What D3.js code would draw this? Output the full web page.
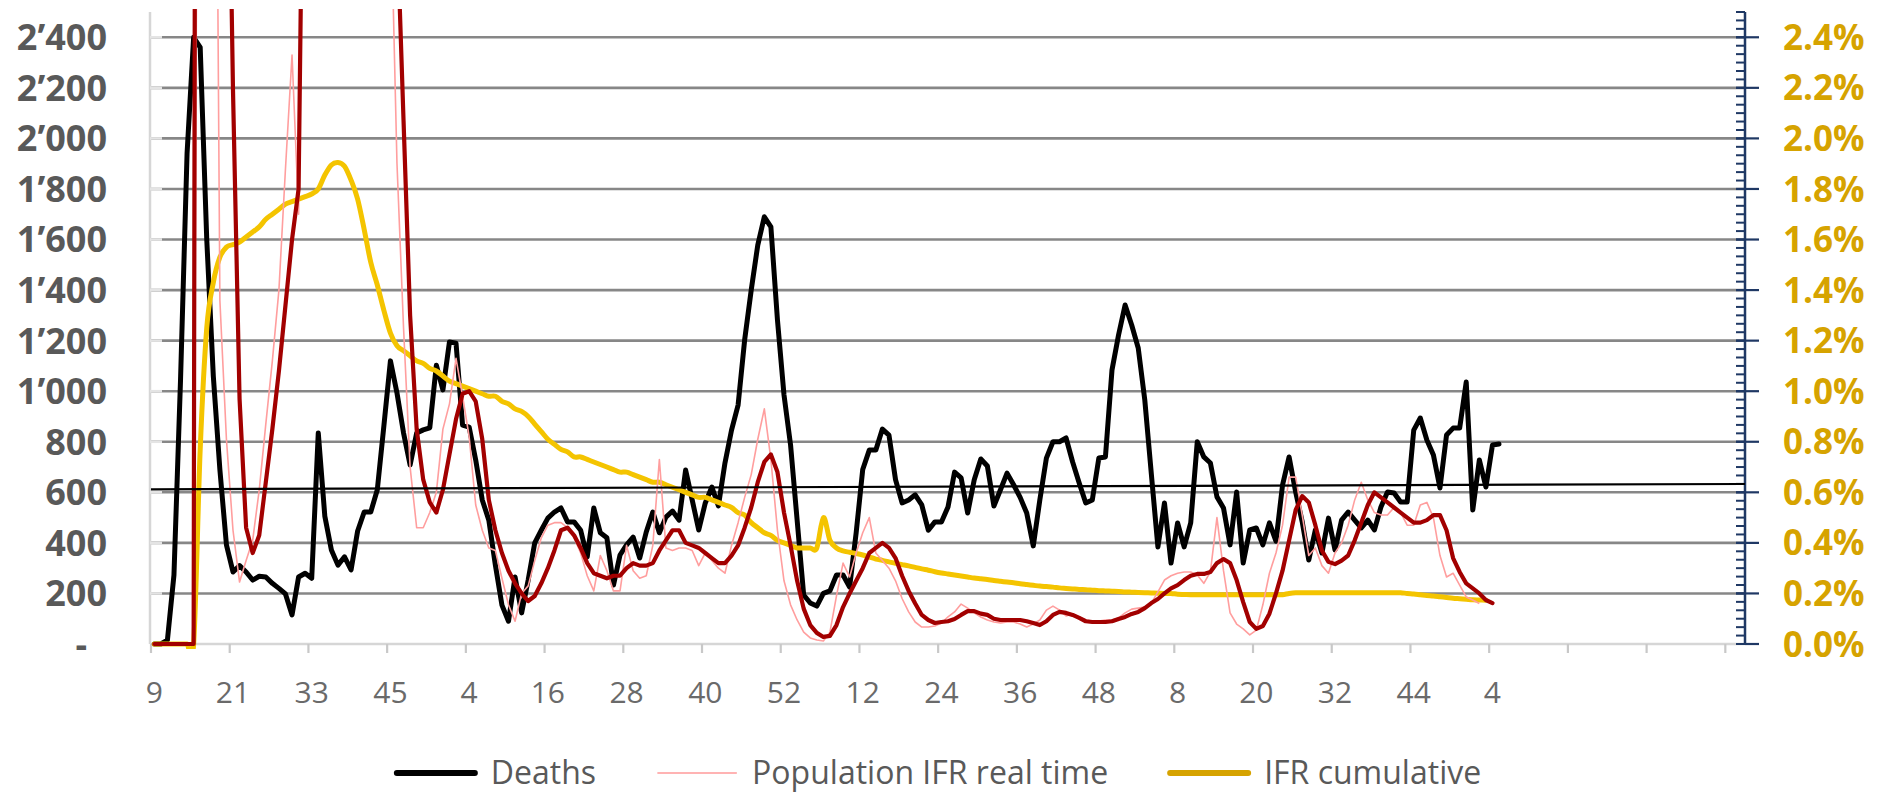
<!DOCTYPE html>
<html><head><meta charset="utf-8">
<script src="https://cdn.jsdelivr.net/npm/d3@7"></script>
<style>body{margin:0;background:#fff}svg{display:block}</style>
</head><body><svg id="c" width="1890" height="792"></svg>
<script>
// ---------- DATA ----------
const weekLabels = ["9","21","33","45","4","16","28","40","52","12","24","36","48","8","20","32","44","4"];
const categoryCount = 243;
const leftTicks = [0,200,400,600,800,1000,1200,1400,1600,1800,2000,2200,2400];
const rightTicks = [0,0.2,0.4,0.6,0.8,1.0,1.2,1.4,1.6,1.8,2.0,2.2,2.4];

const deaths = [0,0,15,273,1044,1942,2400,2360,1600,1060,690,392,285,310,285,253,268,265,240,220,
198,115,265,280,260,835,505,372,312,345,293,447,522,522,610,862,1120,993,835,708,
835,847,855,1103,1005,1195,1190,866,858,728,570,490,312,154,90,265,123,253,400,450,
498,522,538,483,483,450,344,538,440,420,233,352,392,423,340,443,522,440,502,526,
490,688,570,451,558,621,546,716,846,945,1203,1400,1578,1690,1650,1282,985,787,490,194,
162,150,200,210,273,273,225,440,690,767,767,850,826,650,558,570,590,550,450,483,
483,542,680,657,518,650,732,704,546,610,676,630,580,518,388,570,735,800,800,815,
720,637,558,570,736,740,1084,1222,1341,1262,1171,965,672,384,558,320,479,384,479,800,
740,716,582,538,392,601,320,451,459,392,479,407,629,740,601,483,332,451,360,498,
372,490,522,490,459,490,451,542,601,597,562,562,846,894,807,748,617,827,854,854,
1036,530,728,621,787,791];

const ifrRealTime = [0,0,0,0,0,0,0,6,8,5.2,1.36,0.81,0.45,0.245,0.33,0.41,0.61,0.87,1.12,1.40,
1.88,2.33,1.70,4,6,8,7,6,7,8,6,5,6,5,4.5,4,3.0,1.9,1.25,0.7,
0.46,0.46,0.52,0.6,0.85,0.95,1.13,0.98,0.82,0.55,0.45,0.38,0.37,0.26,0.155,0.09,0.2,0.23,0.33,0.42,
0.47,0.48,0.48,0.46,0.42,0.36,0.27,0.21,0.35,0.29,0.21,0.21,0.39,0.29,0.26,0.27,0.39,0.73,0.38,0.37,
0.38,0.38,0.37,0.31,0.36,0.33,0.30,0.28,0.39,0.48,0.58,0.67,0.81,0.93,0.73,0.45,0.25,0.155,0.095,0.047,
0.024,0.016,0.012,0.047,0.19,0.32,0.265,0.36,0.44,0.50,0.36,0.33,0.30,0.25,0.18,0.127,0.087,0.067,0.067,0.071,
0.083,0.107,0.127,0.158,0.142,0.123,0.107,0.095,0.087,0.083,0.087,0.087,0.079,0.067,0.079,0.095,0.134,0.15,0.134,0.111,
0.119,0.107,0.095,0.091,0.091,0.095,0.095,0.103,0.123,0.138,0.142,0.146,0.162,0.206,0.253,0.27,0.28,0.285,0.285,0.273,
0.24,0.285,0.50,0.29,0.123,0.079,0.06,0.036,0.055,0.155,0.28,0.36,0.47,0.66,0.66,0.51,0.35,0.38,0.31,0.28,
0.36,0.40,0.47,0.57,0.64,0.57,0.52,0.51,0.51,0.54,0.52,0.47,0.47,0.55,0.56,0.50,0.35,0.265,0.28,0.233,
0.186,0.174,0.16];

const ifrSmoothed = [0,0,0,0,0,0,0,15,20,18,12,3.8,2.19,0.97,0.46,0.36,0.43,0.64,0.85,1.08,
1.34,1.6,1.8,4,7,9,10,10,9,9,8,7,6,5,4.5,4,3.4,2.85,2.07,1.30,
0.85,0.65,0.56,0.52,0.61,0.75,0.89,0.99,1.0,0.96,0.81,0.57,0.45,0.36,0.29,0.24,0.20,0.17,0.19,0.24,
0.30,0.37,0.45,0.46,0.43,0.38,0.32,0.28,0.27,0.26,0.27,0.27,0.30,0.32,0.31,0.31,0.32,0.37,0.41,0.45,
0.45,0.40,0.39,0.38,0.36,0.34,0.32,0.32,0.35,0.39,0.46,0.54,0.64,0.72,0.75,0.68,0.52,0.39,0.25,0.14,
0.075,0.044,0.028,0.032,0.075,0.146,0.20,0.25,0.30,0.36,0.38,0.40,0.38,0.34,0.27,0.21,0.16,0.115,0.095,0.083,
0.087,0.09,0.099,0.115,0.13,0.13,0.12,0.115,0.10,0.095,0.095,0.095,0.095,0.09,0.083,0.075,0.09,0.115,0.127,0.123,
0.115,0.103,0.09,0.087,0.087,0.087,0.09,0.099,0.107,0.119,0.127,0.142,0.162,0.178,0.20,0.22,0.233,0.253,0.27,0.277,
0.277,0.285,0.32,0.336,0.32,0.253,0.166,0.087,0.06,0.071,0.12,0.20,0.29,0.41,0.53,0.585,0.56,0.47,0.37,0.325,
0.316,0.33,0.35,0.41,0.48,0.55,0.60,0.58,0.56,0.54,0.52,0.50,0.48,0.48,0.49,0.51,0.51,0.45,0.34,0.285,
0.24,0.22,0.20,0.174,0.162];

const ifrCumulative = [0,0,0,0,0,0,0,0.77,1.25,1.43,1.53,1.57,1.58,1.59,1.61,1.63,1.65,1.68,1.70,1.72,
1.74,1.75,1.76,1.77,1.78,1.80,1.855,1.895,1.905,1.89,1.835,1.76,1.64,1.51,1.42,1.32,1.23,1.18,1.16,1.14,
1.12,1.11,1.09,1.08,1.06,1.04,1.03,1.02,1.01,1.00,0.99,0.98,0.98,0.96,0.95,0.93,0.92,0.90,0.87,0.84,
0.81,0.79,0.77,0.76,0.74,0.74,0.73,0.72,0.71,0.70,0.69,0.68,0.68,0.67,0.66,0.65,0.64,0.64,0.63,0.62,
0.61,0.60,0.59,0.58,0.58,0.57,0.56,0.55,0.54,0.52,0.51,0.48,0.46,0.44,0.43,0.41,0.40,0.39,0.38,0.38,
0.38,0.38,0.50,0.41,0.38,0.368,0.363,0.358,0.352,0.344,0.336,0.331,0.325,0.319,0.314,0.309,0.303,0.297,0.292,0.286,
0.281,0.277,0.273,0.269,0.265,0.261,0.258,0.255,0.251,0.248,0.245,0.242,0.238,0.235,0.232,0.229,0.227,0.225,0.222,0.220,
0.218,0.216,0.215,0.213,0.211,0.210,0.209,0.208,0.206,0.205,0.204,0.203,0.202,0.201,0.200,0.200,0.197,0.196,0.195,0.195,
0.195,0.195,0.195,0.195,0.195,0.195,0.195,0.195,0.195,0.195,0.195,0.195,0.195,0.200,0.203,0.203,0.203,0.203,0.203,0.203,
0.203,0.203,0.203,0.203,0.203,0.203,0.203,0.203,0.203,0.203,0.203,0.200,0.198,0.195,0.192,0.190,0.187,0.184,0.181,0.179,
0.177,0.175,0.174,0.173];

const trendLine = [612, 633];

const legendItems = ["Deaths","Population IFR real time","IFR cumulative"];

// ---------- CHART ----------
const svg = d3.select('#c');
const font = "'Open Sans','Noto Sans',sans-serif";
const xB = d3.scaleLinear().domain([0, categoryCount]).range([151, 1745]);
const xC = i => xB(i + 0.5);
const yL = d3.scaleLinear().domain([0, 2500]).range([644, 12]);
const yR = d3.scaleLinear().domain([0, 2.5]).range([644, 12]);

const COL = {black:"#000000", pink:"#FF9E9E", red:"#A20000", yellow:"#F4C400", gold:"#D6A300", grid:"#878787", axis:"#D6D6D6", navy:"#1F3864", label:"#595959", xlabel:"#6a6a6a"};

// gridlines
svg.append('g').selectAll('line').data(leftTicks.filter(d => d > 0)).join('line')
  .attr('x1', xB(0)).attr('x2', xB(categoryCount))
  .attr('y1', d => yL(d)).attr('y2', d => yL(d))
  .attr('stroke', COL.grid).attr('stroke-width', 2.6);

// left axis
const gL = svg.append('g');
gL.append('line').attr('x1', 150).attr('x2', 150).attr('y1', yL(2500)).attr('y2', yL(0))
  .attr('stroke', COL.axis).attr('stroke-width', 2.5);
gL.selectAll('line.t').data(leftTicks.filter(d => d > 0)).join('line').attr('class', 't')
  .attr('x1', 150).attr('x2', 162).attr('y1', d => yL(d)).attr('y2', d => yL(d))
  .attr('stroke', '#E4E4E4').attr('stroke-width', 2.6);
const fmtL = d => d === 0 ? "-" : d3.format(",")(d).replace(/,/g, "\u2019");
gL.selectAll('text').data(leftTicks).join('text')
  .attr('x', d => d === 0 ? 87 : 107).attr('y', d => yL(d)).attr('dy', '0.36em')
  .attr('text-anchor', 'end').attr('font-family', font).attr('font-weight', 700)
  .attr('font-size', 36).attr('fill', COL.label).text(fmtL);

// x axis
const gX = svg.append('g');
gX.append('line').attr('x1', 150).attr('x2', xB(categoryCount)).attr('y1', 644).attr('y2', 644)
  .attr('stroke', COL.axis).attr('stroke-width', 2.5);
const tickIdx = d3.range(0, categoryCount, 12);
gX.selectAll('line.t').data(tickIdx).join('line').attr('class', 't')
  .attr('x1', d => xB(d)).attr('x2', d => xB(d)).attr('y1', 644).attr('y2', 653)
  .attr('stroke', '#C8C8C8').attr('stroke-width', 2.2);
gX.selectAll('text').data(weekLabels).join('text')
  .attr('x', (d, i) => xC(i * 12)).attr('y', 703).attr('text-anchor', 'middle')
  .attr('font-family', font).attr('font-size', 30).attr('fill', COL.xlabel).text(d => d);

// right axis
const gR = svg.append('g');
const minorVals = d3.range(0, 76).map(k => k / 30);
gR.selectAll('line.m').data(minorVals).join('line').attr('class', 'm')
  .attr('x1', 1736).attr('x2', 1745).attr('y1', d => yR(d)).attr('y2', d => yR(d))
  .attr('stroke', COL.navy).attr('stroke-width', 2);
gR.selectAll('line.M').data(rightTicks).join('line').attr('class', 'M')
  .attr('x1', d => d === 0 ? 1745 : 1736).attr('x2', 1759).attr('y1', d => yR(d)).attr('y2', d => yR(d))
  .attr('stroke', COL.navy).attr('stroke-width', 2.2);
gR.append('line').attr('x1', 1745).attr('x2', 1745).attr('y1', yR(2.5)).attr('y2', yR(0) + 1)
  .attr('stroke', COL.navy).attr('stroke-width', 2.5);
gR.selectAll('text').data(rightTicks).join('text')
  .attr('x', 1783).attr('y', d => yR(d)).attr('dy', '0.36em')
  .attr('font-family', font).attr('font-weight', 700).attr('font-size', 35)
  .attr('fill', COL.gold).text(d => d.toFixed(1) + "%");

// clip
svg.append('clipPath').attr('id', 'clip').append('rect')
  .attr('x', 148).attr('y', 9).attr('width', 1600).attr('height', 640);
const plot = svg.append('g').attr('clip-path', 'url(#clip)');

const lineL = d3.line().x((d, i) => xC(i)).y(d => yL(d));
const lineR = d3.line().x((d, i) => xC(i)).y(d => yR(d));
const lineRs = d3.line().x((d, i) => xC(i)).y(d => yR(d)).curve(d3.curveCardinal.tension(0));

plot.append('path').datum(deaths).attr('d', lineL).attr('fill', 'none')
  .attr('stroke', COL.black).attr('stroke-width', 5).attr('stroke-linejoin', 'round').attr('stroke-linecap', 'round');
plot.append('path').datum(ifrCumulative).attr('d', lineRs).attr('fill', 'none')
  .attr('stroke', COL.yellow).attr('stroke-width', 5).attr('stroke-linejoin', 'round').attr('stroke-linecap', 'round');
plot.append('path').datum(ifrRealTime).attr('d', lineR).attr('fill', 'none')
  .attr('stroke', COL.pink).attr('stroke-width', 1.6).attr('stroke-linejoin', 'round');
plot.append('path').datum(ifrSmoothed).attr('d', lineR).attr('fill', 'none')
  .attr('stroke', COL.red).attr('stroke-width', 4.2).attr('stroke-linejoin', 'round').attr('stroke-linecap', 'round');
plot.append('line')
  .attr('x1', xB(0)).attr('x2', xB(categoryCount))
  .attr('y1', yL(trendLine[0])).attr('y2', yL(trendLine[1]))
  .attr('stroke', '#000').attr('stroke-width', 2.2);

// legend
const legColors = [{c: COL.black, w: 6}, {c: '#FFB3B3', w: 2}, {c: COL.gold, w: 6}];
const gLeg = svg.append('g');
const items = legendItems.map((name, i) => {
  const g = gLeg.append('g');
  g.append('line').attr('x1', 0).attr('x2', 78).attr('y1', 0).attr('y2', 0)
    .attr('stroke', legColors[i].c).attr('stroke-width', legColors[i].w).attr('stroke-linecap', 'round');
  const t = g.append('text').attr('x', 94).attr('y', 0).attr('dy', '0.35em')
    .attr('font-family', font).attr('font-size', 32).attr('fill', COL.label).text(name);
  return {g, w: 94 + t.node().getComputedTextLength()};
});
const gap = 62;
const total = d3.sum(items, d => d.w) + gap * (items.length - 1);
let xPos = 939 - total / 2;
items.forEach(it => { it.g.attr('transform', `translate(${xPos},773)`); xPos += it.w + gap; });
</script>
</body></html>
